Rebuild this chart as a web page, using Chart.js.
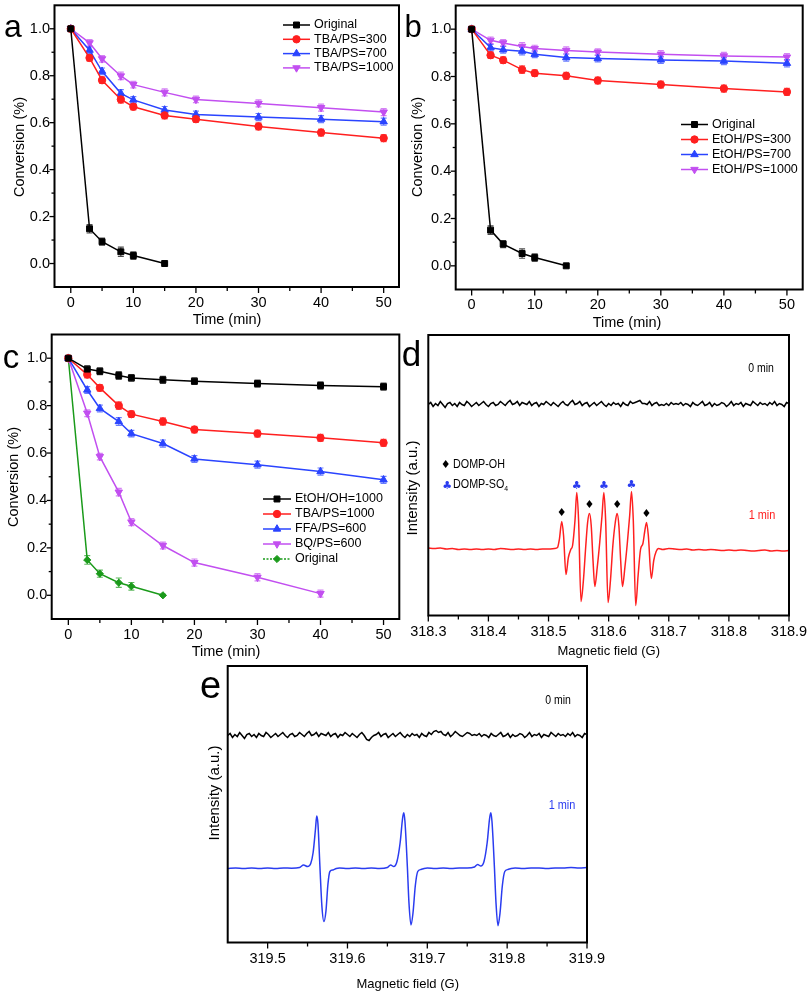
<!DOCTYPE html>
<html><head><meta charset="utf-8">
<script src="https://cdn.jsdelivr.net/npm/chart.js@4.4.1/dist/chart.umd.min.js"></script>
<style>
html,body{margin:0;padding:0;background:#fff;}
#wrap{position:relative;width:808px;height:992px;overflow:hidden;font-family:"Liberation Sans",Arial,sans-serif;color:#000;}
canvas{position:absolute;left:0;top:0;}
.t{position:absolute;white-space:nowrap;line-height:1;transform:translate(-50%,-50%);}
.l{position:absolute;white-space:nowrap;line-height:1;transform:translate(0,-50%);}
.rot{transform:translate(-50%,-50%) rotate(-90deg);}
.nar{transform:translate(-50%,-50%) scaleX(0.84);}
.narl{transform:translate(0,-50%) scaleX(0.86);transform-origin:0 50%;}
</style></head><body><div id="wrap">
<canvas id="ca" width="808" height="992"></canvas>
<canvas id="cb" width="808" height="992"></canvas>
<canvas id="cc" width="808" height="992"></canvas>
<canvas id="cd" width="808" height="992"></canvas>
<canvas id="ce" width="808" height="992"></canvas>

<div class="t" style="left:13px;top:26px;font-size:32px">a</div>
<div class="t" style="left:413px;top:26px;font-size:31px">b</div>
<div class="t" style="left:11px;top:356px;font-size:33px">c</div>
<div class="t" style="left:411.5px;top:353px;font-size:35px">d</div>
<div class="t" style="left:210.5px;top:685px;font-size:38px">e</div>

<div class="t rot" style="left:18.5px;top:147px;font-size:14.5px">Conversion (%)</div>
<div class="t rot" style="left:417px;top:147px;font-size:14.5px">Conversion (%)</div>
<div class="t rot" style="left:13px;top:477px;font-size:14.5px">Conversion (%)</div>
<div class="t rot" style="left:411px;top:487.5px;font-size:15px">Intensity (a.u.)</div>
<div class="t rot" style="left:213px;top:793px;font-size:15px">Intensity (a.u.)</div>

<div class="t" style="left:227px;top:319px;font-size:14.5px">Time (min)</div>
<div class="t" style="left:627px;top:322px;font-size:14.5px">Time (min)</div>
<div class="t" style="left:226px;top:651px;font-size:14.5px">Time (min)</div>
<div class="t" style="left:608.7px;top:650px;font-size:13px">Magnetic field (G)</div>
<div class="t" style="left:407.7px;top:983px;font-size:13px">Magnetic field (G)</div>

<div class="t nar" style="left:761px;top:368px;font-size:12.5px">0 min</div>
<div class="t nar" style="left:762px;top:514px;font-size:13px;color:#ff2020">1 min</div>
<div class="t" style="left:445.7px;top:464px;font-size:11px;font-family:'DejaVu Sans'">&#9830;</div>
<div class="l narl" style="left:453px;top:464px;font-size:12.5px">DOMP-OH</div>
<div class="t" style="left:447.3px;top:485px;font-size:11px;font-family:'DejaVu Sans';color:#2a3cf0">&#9827;</div>
<div class="l narl" style="left:453px;top:485px;font-size:12.5px">DOMP-SO<sub style="font-size:8px;vertical-align:-3px">4</sub></div>

<div class="t nar" style="left:558px;top:700px;font-size:12.5px">0 min</div>
<div class="t nar" style="left:561.7px;top:804px;font-size:13px;color:#2a3cf0">1 min</div>
</div>
<script>
// ---------------- data ----------------
const timeLong = [0, 3, 5, 8, 10, 15, 20, 30, 40, 50];
const timeOrig = [0, 3, 5, 8, 10, 15];
const timeBQ = [0, 3, 5, 8, 10, 15, 20, 30, 40];

const aOriginal = [1.0, 0.148, 0.093, 0.050, 0.034, 0.0];
const aTBA300 = [1.0, 0.876, 0.781, 0.699, 0.668, 0.631, 0.615, 0.584, 0.558, 0.534];
const aTBA700 = [1.0, 0.909, 0.819, 0.725, 0.697, 0.654, 0.635, 0.624, 0.615, 0.604];
const aTBA1000 = [1.0, 0.940, 0.872, 0.799, 0.762, 0.729, 0.699, 0.682, 0.664, 0.645];

const bOriginal = [1.0, 0.151, 0.092, 0.052, 0.035, 0.0];
const bEtOH300 = [1.0, 0.890, 0.869, 0.829, 0.814, 0.803, 0.783, 0.766, 0.749, 0.735];
const bEtOH700 = [1.0, 0.922, 0.913, 0.907, 0.894, 0.880, 0.876, 0.870, 0.865, 0.856];
const bEtOH1000 = [1.0, 0.953, 0.942, 0.927, 0.918, 0.910, 0.903, 0.894, 0.887, 0.882];

const cEtOH1000 = [1.0, 0.954, 0.945, 0.927, 0.917, 0.909, 0.903, 0.893, 0.885, 0.880];
const cTBA1000 = [1.0, 0.931, 0.875, 0.800, 0.764, 0.733, 0.699, 0.682, 0.664, 0.643];
const cFFA600 = [1.0, 0.866, 0.788, 0.733, 0.682, 0.640, 0.575, 0.551, 0.522, 0.487];
const cBQ600 = [1.0, 0.768, 0.585, 0.435, 0.309, 0.210, 0.138, 0.076, 0.007];
const cOriginal = [1.0, 0.149, 0.091, 0.053, 0.038, 0.0];

const errOrig = [0.004, 0.018, 0.015, 0.020, 0.016, 0.004];
const errLong = [0.004, 0.014, 0.014, 0.016, 0.014, 0.015, 0.014, 0.015, 0.015, 0.015];
const errBQ = [0.004, 0.014, 0.014, 0.016, 0.015, 0.014, 0.015, 0.015, 0.015];

const timeTicks = [0, 10, 20, 30, 40, 50];
const timeMinor = [5, 15, 25, 35, 45];
const convTicks = [0, 0.2, 0.4, 0.6, 0.8, 1.0];
const convMinor = [0.1, 0.3, 0.5, 0.7, 0.9];

// panel d (ESR, DMPO adducts)
const dFieldTicks = [318.3, 318.4, 318.5, 318.6, 318.7, 318.8, 318.9];
const dFieldMinor = [318.35, 318.45, 318.55, 318.65, 318.75, 318.85];
const d0Start = 318.3, d0Step = 0.004;
const d0Noise = [
211,213,209,212,210,214,211,208,212,213,
210,212,209,213,211,210,214,212,209,211,
213,210,212,214,211,209,212,213,210,211,
214,212,210,213,215,211,212,214,210,213,
212,211,214,210,212,213,209,212,211,214,
212,210,213,211,209,212,214,211,210,213,
215,211,212,214,210,212,213,209,211,213,
210,212,214,211,209,212,210,213,211,212,
209,213,211,210,214,212,213,214,215,212,
212,211,214,210,212,213,210,211,210,212,
210,213,211,212,211,213,210,212,211,209,
213,211,210,212,214,210,211,213,209,212,
210,211,213,212,209,211,214,210,212,211,
213,209,212,211,210,214,212,210,213,211,
212,210,213,211,214,210,212,211,209,213,
212];
const d1Field = [
318.30,318.31,318.32,318.33,318.34,318.35,318.36,318.37,318.38,318.39,318.40,318.41,318.42,318.43,318.44,318.45,318.46,318.47,318.48,318.49,318.50,318.51,
318.515,318.518,318.522,318.525,318.529,318.533,318.537,318.540,318.544,318.547,
318.550,318.554,318.558,318.562,318.565,318.568,318.571,318.574,318.577,318.581,
318.585,318.589,318.592,318.595,318.599,318.603,318.607,318.611,318.614,318.617,
318.620,318.623,318.627,318.631,318.635,318.638,318.641,318.645,318.649,318.653,
318.657,318.660,318.663,318.666,318.671,318.675,318.679,318.683,
318.69,318.70,318.71,318.72,318.73,318.74,318.75,318.76,318.77,318.78,318.79,318.80,318.81,318.82,318.83,318.84,318.85,318.86,318.87,318.88,318.89,318.90];
const d1Signal = [
67.5,67,67.5,66.5,67,66,66.5,66,66.5,66,66.5,66,67,66.5,66,66.5,66,66.5,66,66.5,66.5,67,
68,76,94,80,41,58,66,70,95,123,
95,14,35,70,93,102,90,55,29,48,
72,100,123,95,13,35,70,93,102,90,
55,29,48,72,100,124,95,10,40,66,
72,84,93,80,37,55,64,67,
66,67,66.5,66,66.5,65.5,66,65.5,66,65.5,65,65.5,65,65.5,65,64.5,65,65.5,64.5,65,64.5,65];
const ohPeakField = [318.522, 318.568, 318.614, 318.663];
const ohPeakVal = [94, 102, 102, 93];
const so4PeakField = [318.547, 318.592, 318.638];
const so4PeakVal = [123, 123, 124];

// panel e (ESR, singlet oxygen adduct)
const eFieldTicks = [319.5, 319.6, 319.7, 319.8, 319.9];
const eFieldMinor = [319.55, 319.65, 319.75, 319.85];
const e0Start = 319.45, e0Step = 0.003;
const e0Noise = [
207,209,205,208,206,210,207,204,208,209,
206,208,205,209,207,206,210,208,205,207,
209,206,208,210,207,205,208,209,206,207,
210,208,206,209,211,207,208,210,206,209,
208,207,210,206,208,209,205,208,207,210,
208,206,209,207,205,208,210,207,203,202,
205,207,208,210,206,208,209,205,207,209,
206,208,210,207,205,208,206,209,207,208,
205,209,207,206,210,208,211,212,210,211,
208,207,210,206,208,211,209,207,206,208,
210,209,207,208,207,209,206,208,207,205,
209,207,206,208,210,206,207,209,205,208,
206,207,209,208,205,207,210,206,208,207,
209,205,208,207,206,210,208,206,209,207,
208,206,209,207,210,206,208,207,205,209,
208];
const e1Field = [
319.45,319.46,319.47,319.48,319.49,319.50,319.51,319.52,319.53,
319.540,319.545,319.550,319.554,319.557,319.560,319.5615,319.563,319.5655,319.568,
319.5705,319.573,319.5755,319.578,319.582,319.586,319.59,
319.60,319.61,319.62,319.63,319.64,
319.650,319.654,319.658,319.662,319.666,319.669,319.6705,319.672,319.675,319.677,
319.6795,319.682,319.685,319.688,319.692,319.696,
319.70,319.71,319.72,319.73,319.74,319.75,
319.759,319.763,319.767,319.771,319.775,319.778,319.7795,319.781,319.784,319.786,
319.7885,319.791,319.794,319.797,319.801,319.805,
319.81,319.82,319.83,319.84,319.85,319.86,319.87,319.88,319.89,319.90];
const e1Signal = [
74,74.5,74,74.5,74,74.5,74,74.5,74.3,
75,77.5,76,79,90,114,126.5,119,76,36,
21,31,58,71,72.5,74,74.5,
74,74.5,74,74.5,74,
75,77.5,76,81,100,124,129.8,121,76,40,
17.5,29,57,71,73,74,
74.5,74,74.5,74,74.5,74.5,
75.5,78,76.5,81,100,124,129.8,121,76,40,
16.8,29,57,71,73,74,
74.5,74,74.5,74.5,74,74.5,74.5,75,74.5,75];

// ---------------- helpers ----------------
const W = 808, H = 992, Y_W = 40, X_H = 40;
const SANS = '"Liberation Sans", Arial, sans-serif';
const BLACK = '#000000', RED = '#ff1f1f', BLUE = '#2a44ff', VIOLET = '#c24ff0', GREEN = '#1a9a1a';

const pts = (xs, ys) => xs.map((x, i) => ({ x: x, y: ys[i] }));
const seq = (start, step, ys) => ys.map((y, i) => ({ x: start + i * step, y: y }));

const frameTicks = {
  id: 'frameTicks',
  afterDraw(chart, args, o) {
    const { ctx, chartArea: a, scales } = chart;
    ctx.save();
    ctx.strokeStyle = '#000';
    ctx.lineWidth = 1.3;
    const xs = scales.x, ys = scales.y;
    const xt = (vals, len) => (vals || []).forEach(v => {
      const p = xs.getPixelForValue(v);
      ctx.beginPath(); ctx.moveTo(p, a.bottom); ctx.lineTo(p, a.bottom + len); ctx.stroke();
    });
    const yt = (vals, len) => (vals || []).forEach(v => {
      const p = ys.getPixelForValue(v);
      ctx.beginPath(); ctx.moveTo(a.left, p); ctx.lineTo(a.left - len, p); ctx.stroke();
    });
    xt(o.xMajor, o.xMajLen || 6); xt(o.xMinor, o.xMinLen || 4);
    yt(o.yMajor, 5); yt(o.yMinor, 3);
    ctx.lineWidth = 2;
    ctx.strokeRect(a.left, a.top, a.right - a.left, a.bottom - a.top);
    ctx.restore();
  }
};

const errorBars = {
  id: 'errorBars',
  beforeDatasetsDraw(chart) {
    const { ctx, scales } = chart;
    ctx.save();
    chart.data.datasets.forEach((ds, i) => {
      if (!ds.errors) return;
      const meta = chart.getDatasetMeta(i);
      ctx.strokeStyle = ds.borderColor;
      ctx.globalAlpha = 0.7;
      ctx.lineWidth = 1.2;
      meta.data.forEach((el, j) => {
        const e = ds.errors[j];
        if (!e) return;
        const v = ds.data[j].y;
        const y1 = scales.y.getPixelForValue(v + e), y2 = scales.y.getPixelForValue(v - e);
        ctx.beginPath();
        ctx.moveTo(el.x, y1); ctx.lineTo(el.x, y2);
        ctx.moveTo(el.x - 3, y1); ctx.lineTo(el.x + 3, y1);
        ctx.moveTo(el.x - 3, y2); ctx.lineTo(el.x + 3, y2);
        ctx.stroke();
      });
    });
    ctx.restore();
  }
};

const innerLegend = {
  id: 'innerLegend',
  afterDraw(chart, args, o) {
    if (!o || o.x === undefined) return;
    const ctx = chart.ctx;
    ctx.save();
    chart.data.datasets.forEach((ds, i) => {
      const y = o.y + i * o.dy;
      ctx.strokeStyle = ds.borderColor;
      ctx.lineWidth = ds.borderWidth;
      ctx.setLineDash(ds.legendDash || []);
      ctx.beginPath(); ctx.moveTo(o.x, y); ctx.lineTo(o.x + o.len, y); ctx.stroke();
      ctx.setLineDash([]);
      ctx.fillStyle = ds.backgroundColor;
      ctx.lineWidth = 1;
      Chart.helpers.drawPoint(ctx, { pointStyle: ds.pointStyle, radius: ds.pointRadius, rotation: ds.rotation || 0, borderWidth: 1 }, o.x + o.len / 2, y);
      ctx.fillStyle = '#000';
      ctx.font = o.font;
      ctx.textAlign = 'left';
      ctx.textBaseline = 'middle';
      ctx.fillText(ds.label, o.x + o.len + 4, y);
    });
    ctx.restore();
  }
};

const peakMarks = {
  id: 'peakMarks',
  afterDatasetsDraw(chart, args, o) {
    if (!o || !o.marks) return;
    const { ctx, scales } = chart;
    ctx.save();
    ctx.textAlign = 'center';
    ctx.textBaseline = 'middle';
    o.marks.forEach(m => {
      ctx.fillStyle = m.color;
      ctx.font = m.font;
      m.field.forEach((f, i) => {
        ctx.fillText(m.char, scales.x.getPixelForValue(f), scales.y.getPixelForValue(m.value[i]) + m.dy);
      });
    });
    ctx.restore();
  }
};

function makeChart(id, cfg) {
  const a = cfg.area;
  return new Chart(document.getElementById(id), {
    type: 'scatter',
    data: { datasets: cfg.datasets },
    options: {
      responsive: false, animation: false, devicePixelRatio: 1,
      events: [],
      layout: { padding: { left: a.l - Y_W, top: a.t, right: W - a.r, bottom: H - a.b - X_H } },
      plugins: {
        legend: { display: false }, tooltip: { enabled: false }, title: { display: false },
        frameTicks: cfg.ticksDraw, innerLegend: cfg.legend || {}, peakMarks: cfg.peakMarks || {}
      },
      scales: {
        x: {
          type: 'linear', min: cfg.xMin, max: cfg.xMax,
          afterBuildTicks: s => { s.ticks = cfg.xTicks.map(v => ({ value: v })); },
          afterFit: s => { s.height = X_H; s.paddingLeft = 0; s.paddingRight = 0; },
          grid: { display: false, drawTicks: false }, border: { display: false },
          ticks: { autoSkip: false, maxRotation: 0, minRotation: 0, padding: cfg.xPad, color: '#000', font: cfg.xFont, callback: cfg.xFmt }
        },
        y: {
          type: 'linear', min: cfg.yMin, max: cfg.yMax,
          afterBuildTicks: s => { if (cfg.yTicks) s.ticks = cfg.yTicks.map(v => ({ value: v })); },
          afterFit: s => { s.width = Y_W; s.paddingTop = 0; s.paddingBottom = 0; },
          grid: { display: false, drawTicks: false }, border: { display: false },
          ticks: { display: !!cfg.yTicks, autoSkip: false, padding: 4.5, color: '#000', font: cfg.yFont, callback: cfg.yFmt }
        }
      }
    },
    plugins: [frameTicks, errorBars, innerLegend, peakMarks]
  });
}

function series(label, xs, ys, errs, color, style, radius, rotation) {
  return {
    label: label, data: pts(xs, ys), errors: errs, showLine: true,
    borderColor: color, backgroundColor: color, borderWidth: 1.5,
    pointStyle: style, pointRadius: radius, rotation: rotation || 0,
    pointBorderWidth: 1, pointBorderColor: color, pointBackgroundColor: color, tension: 0
  };
}

const kinFont = { family: SANS, size: 14.5 };
const kinCommon = {
  xMin: -2.6, xMax: 52.45, yMin: -0.1, yMax: 1.1,
  xTicks: timeTicks, yTicks: convTicks,
  xFmt: v => String(v), yFmt: v => v.toFixed(1),
  xFont: kinFont, yFont: kinFont, xPad: 7,
  ticksDraw: { xMajor: timeTicks, xMinor: timeMinor, yMajor: convTicks, yMinor: convMinor }
};

makeChart('ca', Object.assign({}, kinCommon, {
  area: { l: 54.5, t: 5, r: 399, b: 287 },
  datasets: [
    series('Original', timeOrig, aOriginal, errOrig, BLACK, 'rect', 4.2),
    series('TBA/PS=300', timeLong, aTBA300, errLong, RED, 'circle', 3.7),
    series('TBA/PS=700', timeLong, aTBA700, errLong, BLUE, 'triangle', 4.3),
    series('TBA/PS=1000', timeLong, aTBA1000, errLong, VIOLET, 'triangle', 4.3, 180)
  ],
  legend: { x: 283, y: 25, dy: 14.3, len: 27, font: '12.5px ' + SANS }
}));

makeChart('cb', Object.assign({}, kinCommon, {
  area: { l: 455.7, t: 5.5, r: 803, b: 289.5 },
  xMin: -2.53, xMax: 52.5,
  datasets: [
    series('Original', timeOrig, bOriginal, errOrig, BLACK, 'rect', 4.2),
    series('EtOH/PS=300', timeLong, bEtOH300, errLong, RED, 'circle', 3.7),
    series('EtOH/PS=700', timeLong, bEtOH700, errLong, BLUE, 'triangle', 4.3),
    series('EtOH/PS=1000', timeLong, bEtOH1000, errLong, VIOLET, 'triangle', 4.3, 180)
  ],
  legend: { x: 681, y: 124.5, dy: 15, len: 27, font: '12.5px ' + SANS }
}));

const greenSeries = series('Original', timeOrig, cOriginal, errOrig, GREEN, 'rectRot', 3.6);
greenSeries.legendDash = [2, 1.5];
makeChart('cc', Object.assign({}, kinCommon, {
  area: { l: 51.7, t: 334.5, r: 399.3, b: 619 },
  xMin: -2.64, xMax: 52.5,
  datasets: [
    series('EtOH/OH=1000', timeLong, cEtOH1000, errLong, BLACK, 'rect', 4.2),
    series('TBA/PS=1000', timeLong, cTBA1000, errLong, RED, 'circle', 3.7),
    series('FFA/PS=600', timeLong, cFFA600, errLong, BLUE, 'triangle', 4.3),
    series('BQ/PS=600', timeBQ, cBQ600, errBQ, VIOLET, 'triangle', 4.3, 180),
    greenSeries
  ],
  legend: { x: 263, y: 499, dy: 15, len: 28, font: '12.5px ' + SANS }
}));

const esrTickFont = { family: SANS, size: 14.5 };
function esrLine(data, color, smooth) {
  return {
    data: data, showLine: true, borderColor: color, backgroundColor: color,
    borderWidth: 1.5, pointRadius: 0,
    tension: smooth ? 0.3 : 0, cubicInterpolationMode: smooth ? 'monotone' : 'default'
  };
}

makeChart('cd', {
  area: { l: 428.3, t: 335, r: 789, b: 615.5 },
  xMin: 318.3, xMax: 318.9, yMin: 0, yMax: 280.5,
  xTicks: dFieldTicks, xFmt: v => v.toFixed(1), xFont: esrTickFont, xPad: 8,
  ticksDraw: { xMajor: dFieldTicks, xMinor: dFieldMinor },
  datasets: [
    esrLine(seq(d0Start, d0Step, d0Noise), '#000', false),
    esrLine(pts(d1Field, d1Signal), '#ff2020', true)
  ],
  peakMarks: { marks: [
    { field: ohPeakField, value: ohPeakVal, char: '\u2666', color: '#000', dy: -8, font: '11px "DejaVu Sans"' },
    { field: so4PeakField, value: so4PeakVal, char: '\u2663', color: '#2a3cf0', dy: -6, font: '11px "DejaVu Sans"' }
  ] }
});

makeChart('ce', {
  area: { l: 227.7, t: 666, r: 587, b: 942.5 },
  xMin: 319.45, xMax: 319.9, yMin: 0, yMax: 276.5,
  xTicks: eFieldTicks, xFmt: v => v.toFixed(1), xFont: esrTickFont, xPad: 8,
  ticksDraw: { xMajor: eFieldTicks, xMinor: eFieldMinor },
  datasets: [
    esrLine(seq(e0Start, e0Step, e0Noise), '#000', false),
    esrLine(pts(e1Field, e1Signal), '#2a3cf0', true)
  ]
});
</script>
</body></html>
